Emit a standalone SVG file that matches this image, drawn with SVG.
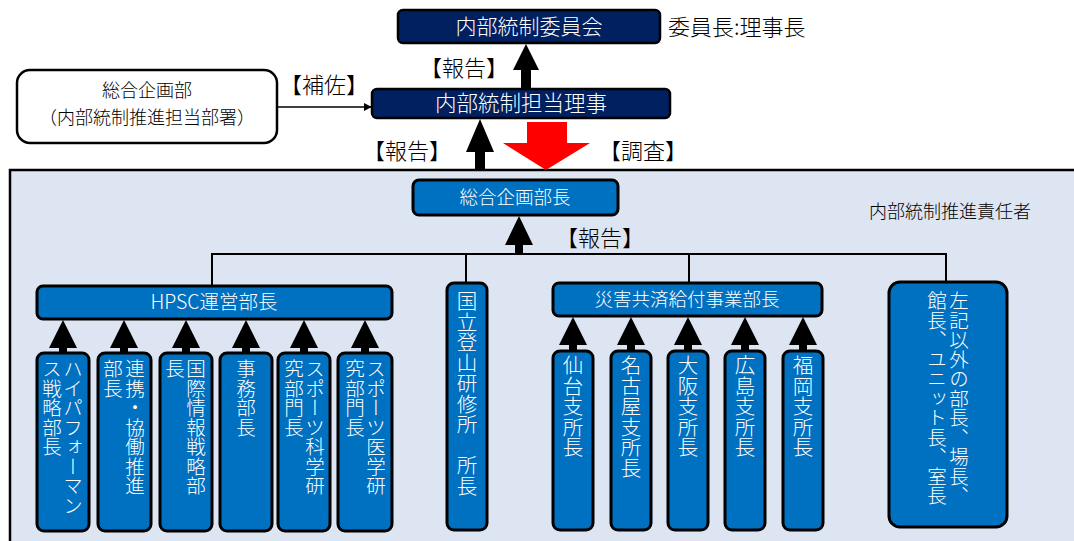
<svg xmlns="http://www.w3.org/2000/svg" width="1074" height="541" viewBox="0 0 1074 541">
<defs>
<style>
text{font-family:"Noto Sans CJK JP","Noto Sans",sans-serif;font-weight:300;}
.navy{fill:#002060;stroke:#000;stroke-width:2.5;}
.blue{fill:#0070C0;stroke:#000;stroke-width:3;}
.wt{fill:#fff;}
.bt{fill:#000;}
.vt{fill:#fff;font-size:19.5px;writing-mode:vertical-rl;}
.ln{stroke:#000;stroke-width:2;fill:none;}
.ar{fill:#000;}
</style>
<marker id="mk" viewBox="0 0 10 10" refX="9" refY="5" markerWidth="8" markerHeight="8" markerUnits="userSpaceOnUse" orient="auto"><path d="M0,0 L10,5 L0,10 z" fill="#000"/></marker>
</defs>
<rect width="1074" height="541" fill="#fff"/>
<g id="panel">
<rect x="10" y="170" width="1090" height="400" fill="#DCE5F1" stroke="#000" stroke-width="2.5"/>
<text x="950" y="218" text-anchor="middle" font-size="18" class="bt">内部統制推進責任者</text>
</g>
<g id="connectors">
<path class="ar" d="M526,44 L539,70 L531,70 L531,89 L521,89 L521,70 L513,70 Z"/>
<text x="464" y="76" text-anchor="middle" font-size="22" class="bt">【報告】</text>
<path class="ar" d="M480,119 L494,152 L485,152 L485,171 L475,171 L475,152 L466,152 Z"/>
<text x="407" y="159" text-anchor="middle" font-size="22" class="bt">【報告】</text>
<path d="M527,122 L567,122 L567,143 L590,143 L546,170 L503,143 L527,143 Z" fill="#FF0000"/>
<text x="643" y="159" text-anchor="middle" font-size="22" class="bt">【調査】</text>
<line x1="278" y1="107" x2="371" y2="107" stroke="#000" stroke-width="1.5" marker-end="url(#mk)"/>
<text x="324" y="93" text-anchor="middle" font-size="22" class="bt">【補佐】</text>
<path class="ar" d="M519,216 L533,245 L523,245 L523,254 L515,254 L515,245 L505,245 Z"/>
<text x="600" y="246" text-anchor="middle" font-size="22" class="bt">【報告】</text>
<path class="ln" d="M212,287 L212,254 L946,254 L946,282 M466,254 L466,283 M689,254 L689,283"/>
<g class="ar">
<path d="M63,320 L77,348 L67,348 L67,353 L59,353 L59,348 L49,348 Z"/>
<path d="M124,320 L138,348 L128,348 L128,353 L120,353 L120,348 L110,348 Z"/>
<path d="M186,320 L200,348 L190,348 L190,353 L182,353 L182,348 L172,348 Z"/>
<path d="M246,320 L260,348 L250,348 L250,353 L242,353 L242,348 L232,348 Z"/>
<path d="M304,320 L318,348 L308,348 L308,353 L300,353 L300,348 L290,348 Z"/>
<path d="M365,320 L379,348 L369,348 L369,353 L361,353 L361,348 L351,348 Z"/>
<path d="M573,317 L587,345 L577,345 L577,351 L569,351 L569,345 L559,345 Z"/>
<path d="M631,317 L645,345 L635,345 L635,351 L627,351 L627,345 L617,345 Z"/>
<path d="M688,317 L702,345 L692,345 L692,351 L684,351 L684,345 L674,345 Z"/>
<path d="M745,317 L759,345 L749,345 L749,351 L741,351 L741,345 L731,345 Z"/>
<path d="M803,317 L817,345 L807,345 L807,351 L799,351 L799,345 L789,345 Z"/>
</g>
</g>
<g id="committee">
<rect x="398" y="10" width="262" height="33" rx="5" class="navy"/>
<text x="529" y="34" text-anchor="middle" font-size="21" class="wt">内部統制委員会</text>
<text x="668" y="35" font-size="22" class="bt">委員長:理事長</text>
</g>
<g id="director">
<rect x="372" y="89" width="298" height="29" rx="5" class="navy"/>
<text x="521" y="111" text-anchor="middle" font-size="21.5" class="wt">内部統制担当理事</text>
</g>
<g id="planning-dept">
<rect x="17" y="70" width="260" height="73" rx="13" fill="#fff" stroke="#000" stroke-width="2.5"/>
<text x="147" y="97" text-anchor="middle" font-size="18" class="bt">総合企画部</text>
<text x="147" y="124" text-anchor="middle" font-size="18" class="bt">（内部統制推進担当部署）</text>
</g>
<g id="planning-head">
<rect x="413" y="180" width="205" height="35" rx="6" class="blue"/>
<text x="515" y="204" text-anchor="middle" font-size="18.5" class="wt">総合企画部長</text>
</g>
<g id="hpsc">
<rect x="37" y="286" width="355" height="33" rx="6" class="blue"/>
<text x="214" y="309" text-anchor="middle" font-size="19.5" class="wt">HPSC運営部長</text>
</g>
<g id="hpsc-1">
<rect x="37" y="353" width="52" height="178" rx="7" class="blue"/>
<text x="73" y="359" class="vt">ハイパフォーマン</text>
<text x="52" y="359" class="vt">ス戦略部長</text>
</g>
<g id="hpsc-2">
<rect x="98" y="353" width="53" height="178" rx="7" class="blue"/>
<text x="135" y="359" class="vt">連携・協働推進</text>
<text x="113" y="359" class="vt">部長</text>
</g>
<g id="hpsc-3">
<rect x="160" y="353" width="52" height="178" rx="7" class="blue"/>
<text x="196" y="359" class="vt">国際情報戦略部</text>
<text x="175" y="359" class="vt">長</text>
</g>
<g id="hpsc-4">
<rect x="220" y="353" width="52" height="178" rx="7" class="blue"/>
<text x="246" y="359" class="vt">事務部長</text>
</g>
<g id="hpsc-5">
<rect x="278" y="353" width="52" height="178" rx="7" class="blue"/>
<text x="315" y="359" class="vt">スポーツ科学研</text>
<text x="294" y="359" class="vt">究部門長</text>
</g>
<g id="hpsc-6">
<rect x="338" y="353" width="54" height="178" rx="7" class="blue"/>
<text x="376" y="359" class="vt">スポーツ医学研</text>
<text x="355" y="359" class="vt">究部門長</text>
</g>
<g id="mountain">
<rect x="447" y="283" width="40" height="247" rx="7" class="blue"/>
<text x="467" y="291" class="vt" style="font-size:20.5px">国立登山研修所　所長</text>
</g>
<g id="disaster">
<rect x="553" y="283" width="269" height="33" rx="6" class="blue"/>
<text x="687" y="306" text-anchor="middle" font-size="18.5" class="wt">災害共済給付事業部長</text>
</g>
<g id="sendai">
<rect x="553" y="351" width="40" height="179" rx="7" class="blue"/>
<text x="573" y="355" class="vt" style="font-size:20.5px">仙台支所長</text>
</g>
<g id="nagoya">
<rect x="611" y="351" width="40" height="179" rx="7" class="blue"/>
<text x="631" y="355" class="vt" style="font-size:20.5px">名古屋支所長</text>
</g>
<g id="osaka">
<rect x="668" y="351" width="40" height="179" rx="7" class="blue"/>
<text x="688" y="355" class="vt" style="font-size:20.5px">大阪支所長</text>
</g>
<g id="hiroshima">
<rect x="725" y="351" width="40" height="179" rx="7" class="blue"/>
<text x="745" y="355" class="vt" style="font-size:20.5px">広島支所長</text>
</g>
<g id="fukuoka">
<rect x="783" y="351" width="40" height="179" rx="7" class="blue"/>
<text x="803" y="355" class="vt" style="font-size:20.5px">福岡支所長</text>
</g>
<g id="others">
<rect x="889" y="282" width="118" height="245" rx="11" class="blue"/>
<text x="959" y="291" class="vt">左記以外の部長、場長、</text>
<text x="937" y="291" class="vt">館長、ユニット長、室長</text>
</g>
</svg>
